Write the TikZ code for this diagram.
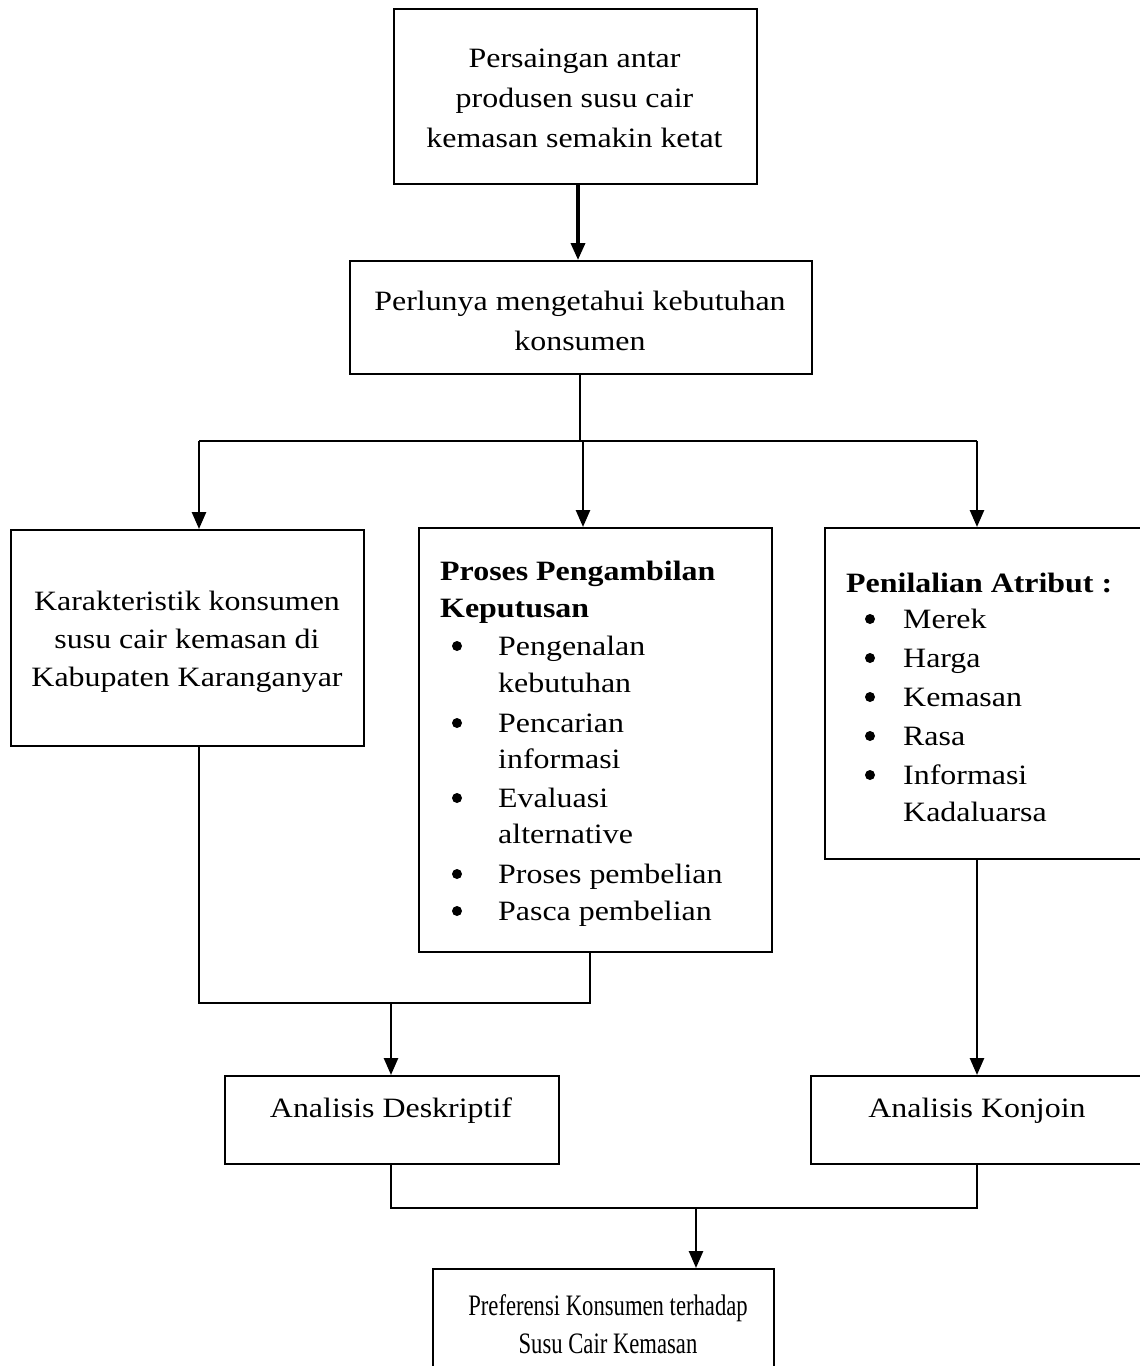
\documentclass[tikz,border=0pt]{standalone}
\usepackage{fontspec}
\setmainfont{Liberation Serif}[FakeStretch=1.14]
\usetikzlibrary{arrows.meta}
\begin{document}
\begin{tikzpicture}[x=1pt,y=-1pt,
  box/.style={draw, line width=1.6pt, inner sep=0pt, anchor=north west},
  txt/.style={inner sep=0pt, font=\fontsize{28}{38}\selectfont},
  btxt/.style={inner sep=0pt, font=\fontsize{28}{38}\selectfont\bfseries},
  dot/.style={circle, fill, inner sep=0pt, minimum size=10pt},
  conn/.style={line width=1.6pt},
  arrow/.style={line width=2.6pt, -{Triangle[width=14pt,length=17pt]}}]
\clip (0,0) rectangle (1140,1366);
\fill[white] (0,0) rectangle (1140,1366);

% boxes
\node[box, minimum width=363pt, minimum height=175pt] (b1) at (393,8) {};
\node[box, minimum width=462pt, minimum height=113pt] (b2) at (349,260) {};
\node[box, minimum width=353pt, minimum height=216pt] (b3) at (10,529) {};
\node[box, minimum width=353pt, minimum height=424pt] (b4) at (418,527) {};
\node[box, minimum width=340pt, minimum height=331pt] (b5) at (824,527) {};
\node[box, minimum width=334pt, minimum height=88pt] (b6) at (224,1075) {};
\node[box, minimum width=350pt, minimum height=88pt] (b7) at (810,1075) {};
\node[box, minimum width=341pt, minimum height=140pt] (b8) at (432,1268) {};

% texts
\node[txt, anchor=base] (t1a) at (574.5,67) {Persaingan antar};
\node[txt, anchor=base] (t1b) at (574.5,107) {produsen susu cair};
\node[txt, anchor=base] (t1c) at (574.5,147) {kemasan semakin ketat};

\node[txt, anchor=base] (t2a) at (580,310) {Perlunya mengetahui kebutuhan};
\node[txt, anchor=base] (t2b) at (580,350) {konsumen};

\node[txt, anchor=base] (t3a) at (187,610) {Karakteristik konsumen};
\node[txt, anchor=base] (t3b) at (187,648) {susu cair kemasan di};
\node[txt, anchor=base] (t3c) at (187,686) {Kabupaten Karanganyar};

\node[btxt, anchor=base west] (t4h1) at (440,580) {Proses Pengambilan};
\node[btxt, anchor=base west] (t4h2) at (440,617) {Keputusan};
\foreach \y in {655,732,807,883,920}
  \node[dot] at (457,\y-9) {};
\node[txt, anchor=base west] (t4a) at (498,655) {Pengenalan};
\node[txt, anchor=base west] (t4b) at (498,692) {kebutuhan};
\node[txt, anchor=base west] (t4c) at (498,732) {Pencarian};
\node[txt, anchor=base west] (t4d) at (498,768) {informasi};
\node[txt, anchor=base west] (t4e) at (498,807) {Evaluasi};
\node[txt, anchor=base west] (t4f) at (498,843) {alternative};
\node[txt, anchor=base west] (t4g) at (498,883) {Proses pembelian};
\node[txt, anchor=base west] (t4i) at (498,920) {Pasca pembelian};

\node[btxt, anchor=base west] (t5h) at (846,592) {Penilalian Atribut :};
\foreach \y in {628,667,706,745,784}
  \node[dot] at (870,\y-9) {};
\node[txt, anchor=base west] (t5a) at (903,628) {Merek};
\node[txt, anchor=base west] (t5b) at (903,667) {Harga};
\node[txt, anchor=base west] (t5c) at (903,706) {Kemasan};
\node[txt, anchor=base west] (t5d) at (903,745) {Rasa};
\node[txt, anchor=base west] (t5e) at (903,784) {Informasi};
\node[txt, anchor=base west] (t5f) at (903,821) {Kadaluarsa};

\node[txt, anchor=base] (t6) at (391,1117) {Analisis Deskriptif};
\node[txt, anchor=base] (t7) at (977,1117) {Analisis Konjoin};

\node[txt, anchor=base] (t8a) at (608,1315) {\scalebox{0.71}[1.06]{Preferensi Konsumen terhadap}};
\node[txt, anchor=base] (t8b) at (608,1353) {\scalebox{0.71}[1.06]{Susu Cair Kemasan}};

% junctions
\coordinate (a1) at (578,0);
\coordinate (jL) at (199,441);
\coordinate (jC) at (580,441);
\coordinate (jM) at (583,441);
\coordinate (jR) at (977,441);
\coordinate (kL) at (199,1003);
\coordinate (kM) at (391,1003);
\coordinate (kR) at (590,1003);
\coordinate (mL) at (391,1208);
\coordinate (mM) at (696,1208);
\coordinate (mR) at (977,1208);

% connectors
\draw[arrow, line width=3.5pt] (a1 |- b1.south) -- (a1 |- b2.north);
\draw[conn] (jC |- b2.south) -- (jC);
\draw[conn] (jL) -- (jR);
\draw[arrow] (jL) -- (jL |- b3.north);
\draw[arrow] (jM) -- (jM |- b4.north);
\draw[arrow] (jR) -- (jR |- b5.north);
\draw[conn] (kL |- b3.south) -- (kL) -- (kR) -- (kR |- b4.south);
\draw[arrow] (kM) -- (kM |- b6.north);
\draw[arrow] (jR |- b5.south) -- (jR |- b7.north);
\draw[conn] (mL |- b6.south) -- (mL) -- (mR) -- (mR |- b7.south);
\draw[arrow] (mM) -- (mM |- b8.north);
\end{tikzpicture}
\end{document}
